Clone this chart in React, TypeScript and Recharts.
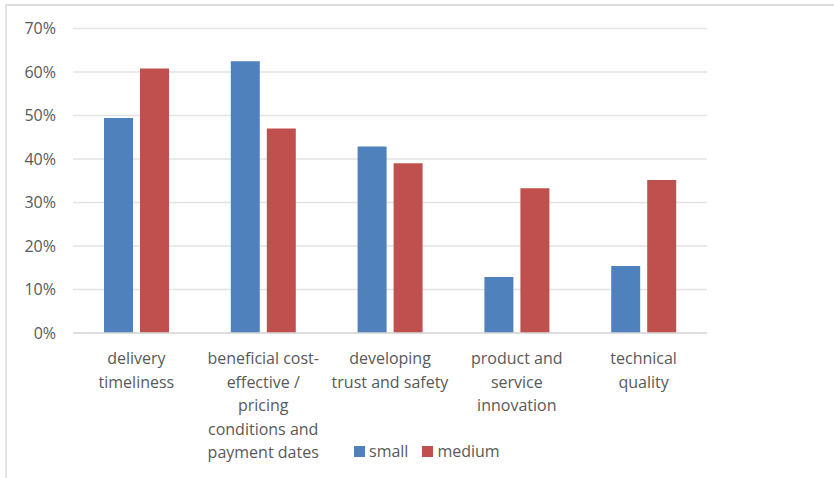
import React from 'react';
import { BarChart, Bar, XAxis, YAxis, CartesianGrid } from 'recharts';

const categories = [
  'delivery\ntimeliness',
  'beneficial cost-\neffective /\npricing\nconditions and\npayment dates',
  'developing\ntrust and safety',
  'product and\nservice\ninnovation',
  'technical\nquality',
];
const small = [49.4, 62.5, 42.9, 12.9, 15.4];
const medium = [60.8, 47.0, 39.0, 33.3, 35.2];
const yTicks = [0, 10, 20, 30, 40, 50, 60, 70];

const series = [
  { key: 'small', color: '#4f81bd' },
  { key: 'medium', color: '#c0504d' },
];

const data = categories.map((name, i) => ({ name, small: small[i], medium: medium[i] }));

const FONT = "'Open Sans', sans-serif";
const TEXT = '#595959';

const CategoryTick = (props: any) => {
  const { x, y, payload } = props;
  const lines = String(payload.value).split('\n');
  return (
    <text x={x} y={y} textAnchor="middle" fill={TEXT} fontFamily={FONT} fontSize={16}>
      {lines.map((line, i) => (
        <tspan key={i} x={x} dy={i === 0 ? 23 : 23.6}>
          {line}
        </tspan>
      ))}
    </text>
  );
};

const App: React.FC = () => (
  <div
    style={{
      position: 'absolute',
      left: 0,
      top: 0,
      width: 834,
      height: 478,
      background: '#fff',
      overflow: 'hidden',
    }}
  >
    <div
      style={{
        position: 'absolute',
        left: 5,
        top: 4,
        right: 0,
        height: 472,
        borderTop: '2px solid #dcdcdc',
        borderLeft: '2px solid #e6e6e6',
        borderBottom: '1px solid #e6e6e6',
      }}
    />
    <div style={{ position: 'absolute', left: 0, top: 0 }}>
      <BarChart
        width={834}
        height={478}
        data={data}
        margin={{ top: 28.5, right: 127, bottom: 115, left: 13 }}
        barSize={29}
        barGap={7}
      >
        <CartesianGrid vertical={false} stroke="#e3e3e3" strokeWidth={1.5} />
        <XAxis
          dataKey="name"
          height={30}
          axisLine={{ stroke: '#d9d9d9', strokeWidth: 1.5 }}
          tickLine={false}
          interval={0}
          tick={<CategoryTick />}
        />
        <YAxis
          width={60}
          domain={[0, 70]}
          ticks={yTicks}
          axisLine={false}
          tickLine={false}
          tickMargin={11}
          tickFormatter={(v: number) => `${v}%`}
          tick={{ fill: TEXT, fontFamily: FONT, fontSize: 16 }}
        />
        {series.map((s) => (
          <Bar key={s.key} dataKey={s.key} name={s.key} fill={s.color} isAnimationActive={false} />
        ))}
      </BarChart>
    </div>
    <div
      style={{
        position: 'absolute',
        left: 354,
        top: 440,
        display: 'flex',
        alignItems: 'center',
        fontFamily: FONT,
        fontSize: 16,
        color: TEXT,
      }}
    >
      {series.map((s) => (
        <span key={s.key} style={{ display: 'flex', alignItems: 'center', marginRight: 14 }}>
          <span style={{ width: 11, height: 11, background: s.color, marginRight: 4 }} />
          {s.key}
        </span>
      ))}
    </div>
  </div>
);

export default App;
